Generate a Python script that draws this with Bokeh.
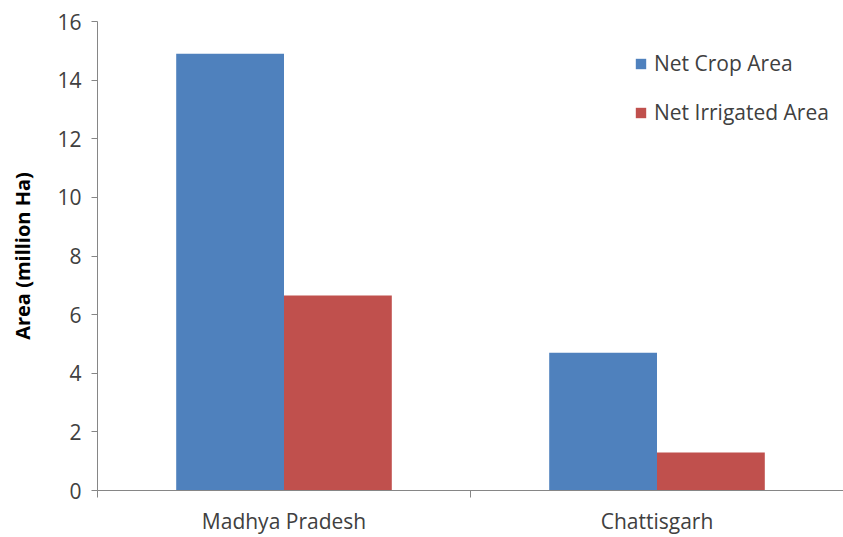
from bokeh.plotting import figure
from bokeh.models import ColumnDataSource, Range1d, FixedTicker, LinearAxis
from bokeh.transform import dodge
from bokeh.embed import file_html
from bokeh.resources import INLINE

states = ["Madhya Pradesh", "Chattisgarh"]
net_crop_area = [14.9, 4.7]
net_irrigated_area = [6.65, 1.3]
y_ticks = [0, 2, 4, 6, 8, 10, 12, 14, 16]

pos = [i + 0.5 for i in range(len(states))]
src = ColumnDataSource(dict(x=pos, crop=net_crop_area, irr=net_irrigated_area, state=states))

FONT = "Open Sans"
TXT = "#404040"
AX = "#868686"

p = figure(width=843, height=537, output_backend="svg", toolbar_location=None,
           x_range=Range1d(0, len(states)), y_range=Range1d(0, 16),
           x_axis_location=None, y_axis_location=None,
           min_border_left=97, min_border_right=0, min_border_top=21, min_border_bottom=40)
p.outline_line_color = None
p.xgrid.visible = False
p.ygrid.visible = False

bw = 0.289
p.vbar(x=dodge("x", -bw / 2, range=p.x_range), top="crop", width=bw, source=src,
       fill_color="#4F81BD", line_color=None, legend_label="Net Crop Area")
p.vbar(x=dodge("x", bw / 2, range=p.x_range), top="irr", width=bw, source=src,
       fill_color="#C0504D", line_color=None, legend_label="Net Irrigated Area")

# y axis
yax = LinearAxis(ticker=FixedTicker(ticks=y_ticks))
yax.axis_label = "Area (million Ha)"
yax.axis_label_text_font = FONT
yax.axis_label_text_font_style = "bold"
yax.axis_label_text_font_size = "20px"
yax.axis_label_text_color = "#000000"
yax.axis_label_standoff = 18
yax.major_label_text_font = FONT
yax.major_label_text_font_size = "21px"
yax.major_label_text_color = TXT
yax.major_label_standoff = 10
yax.axis_line_color = AX
yax.major_tick_line_color = AX
yax.major_tick_out = 6
yax.major_tick_in = 0
yax.minor_tick_line_color = None
p.add_layout(yax, "left")

# x axis: labels at category centres, tick marks at category boundaries
xax = LinearAxis(ticker=FixedTicker(ticks=pos, minor_ticks=list(range(len(states) + 1))))
xax.major_label_overrides = {v: s for v, s in zip(pos, states)}
xax.major_label_text_font = FONT
xax.major_label_text_font_size = "21px"
xax.major_label_text_color = TXT
xax.major_label_standoff = 9
xax.axis_line_color = AX
xax.major_tick_line_color = None
xax.major_tick_out = 0
xax.major_tick_in = 0
xax.minor_tick_line_color = AX
xax.minor_tick_out = 7
xax.minor_tick_in = 0
p.add_layout(xax, "below")

leg = p.legend[0]
leg.location = (537, 363)
leg.border_line_color = None
leg.background_fill_alpha = 0
leg.padding = 0
leg.margin = 0
leg.glyph_width = 13
leg.glyph_height = 13
leg.label_height = 30
leg.spacing = 19
leg.label_standoff = 7
leg.label_text_font = FONT
leg.label_text_font_size = "21px"
leg.label_text_color = TXT

open("out.html", "w").write(file_html(p, INLINE))
